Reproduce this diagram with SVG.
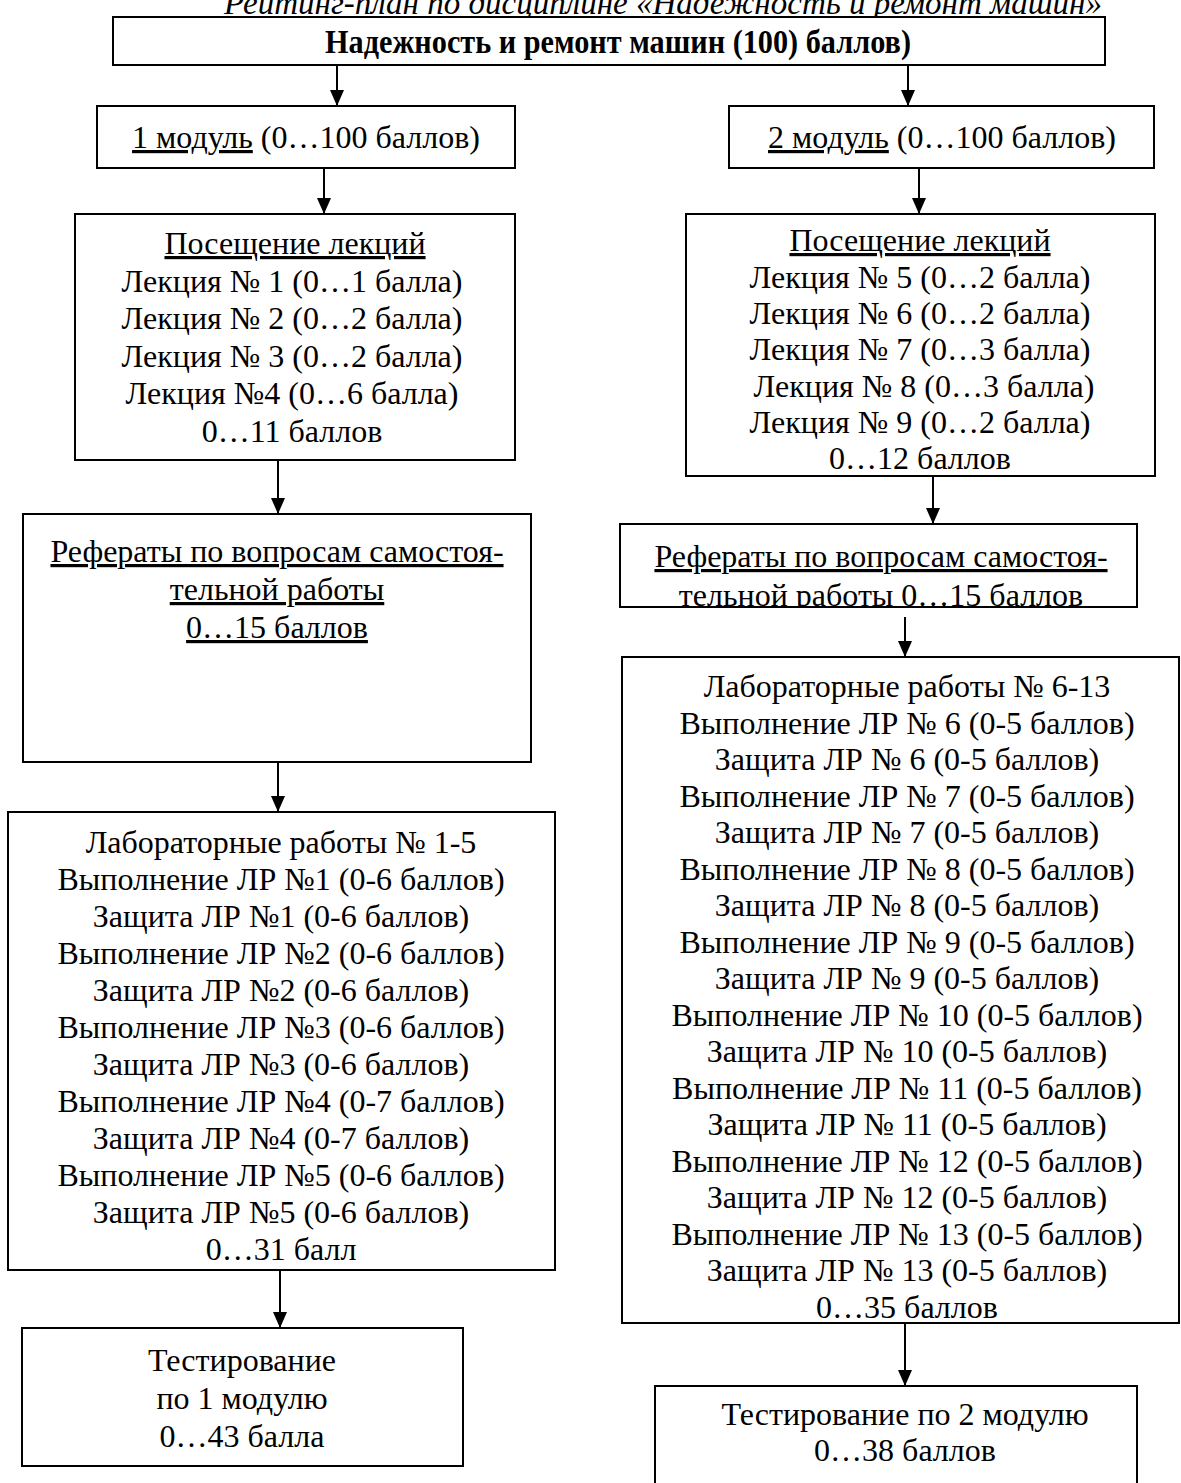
<svg xmlns="http://www.w3.org/2000/svg" width="1181" height="1483" viewBox="0 0 1181 1483">
<style>
text{font-family:"Liberation Serif","Times New Roman",serif;font-size:32px;fill:#000;text-anchor:middle}
.box{fill:#fff;stroke:#000;stroke-width:2}
.u{text-decoration:underline}
.conn line{stroke:#000;stroke-width:2}
</style>
<defs>
<marker id="ah" markerUnits="userSpaceOnUse" markerWidth="14" markerHeight="16" refX="16" refY="7" orient="auto">
<path d="M0,0 L16,7 L0,14 z" fill="#000"/>
</marker>
<clipPath id="clipRefR"><rect x="621" y="525" width="515" height="81"/></clipPath>
</defs>
<rect width="1181" height="1483" fill="#fff"/>
<text x="663" y="14" style="font-style:italic;font-size:33px">Рейтинг-план по дисциплине «Надежность и ремонт машин»</text>

<g id="root">
<rect class="box" x="113" y="17" width="992" height="48"/>
<text x="618" y="53" style="font-weight:bold;font-size:34px" textLength="586" lengthAdjust="spacingAndGlyphs">Надежность и ремонт машин (100) баллов)</text>
</g>

<g id="mod1">
<rect class="box" x="97" y="106" width="418" height="62"/>
<text x="306" y="148"><tspan class="u">1 модуль</tspan> (0…100 баллов)</text>
</g>
<g id="mod2">
<rect class="box" x="729" y="106" width="425" height="62"/>
<text x="942" y="148"><tspan class="u">2 модуль</tspan> (0…100 баллов)</text>
</g>

<g id="lect1">
<rect class="box" x="75" y="214" width="440" height="246"/>
<text x="295" y="254" class="u">Посещение лекций</text>
<text x="292" y="291.5">Лекция № 1 (0…1 балла)</text>
<text x="292" y="329">Лекция № 2 (0…2 балла)</text>
<text x="292" y="366.5">Лекция № 3 (0…2 балла)</text>
<text x="292" y="404">Лекция №4 (0…6 балла)</text>
<text x="292" y="441.5">0…11 баллов</text>
</g>
<g id="lect2">
<rect class="box" x="686" y="214" width="469" height="262"/>
<text x="920" y="251" class="u">Посещение лекций</text>
<text x="920" y="288">Лекция № 5 (0…2 балла)</text>
<text x="920" y="324">Лекция № 6 (0…2 балла)</text>
<text x="920" y="360">Лекция № 7 (0…3 балла)</text>
<text x="924" y="397">Лекция № 8 (0…3 балла)</text>
<text x="920" y="433">Лекция № 9 (0…2 балла)</text>
<text x="920" y="469">0…12 баллов</text>
</g>

<g id="ref1">
<rect class="box" x="23" y="514" width="508" height="248"/>
<text x="277" y="562" class="u">Рефераты по вопросам самостоя-</text>
<text x="277" y="600" class="u">тельной работы</text>
<text x="277" y="638" class="u">0…15 баллов</text>
</g>
<g id="ref2">
<rect class="box" x="620" y="524" width="517" height="83"/>
<g clip-path="url(#clipRefR)">
<text x="881" y="567" class="u">Рефераты по вопросам самостоя-</text>
<text x="881" y="606">тельной работы 0…15 баллов</text>
</g>
</g>

<g id="lab1">
<rect class="box" x="8" y="812" width="547" height="458"/>
<text x="281" y="853">Лабораторные работы № 1-5</text>
<text x="281" y="890">Выполнение ЛР №1 (0-6 баллов)</text>
<text x="281" y="927">Защита ЛР №1 (0-6 баллов)</text>
<text x="281" y="964">Выполнение ЛР №2 (0-6 баллов)</text>
<text x="281" y="1001">Защита ЛР №2 (0-6 баллов)</text>
<text x="281" y="1038">Выполнение ЛР №3 (0-6 баллов)</text>
<text x="281" y="1075">Защита ЛР №3 (0-6 баллов)</text>
<text x="281" y="1112">Выполнение ЛР №4 (0-7 баллов)</text>
<text x="281" y="1149">Защита ЛР №4 (0-7 баллов)</text>
<text x="281" y="1186">Выполнение ЛР №5 (0-6 баллов)</text>
<text x="281" y="1223">Защита ЛР №5 (0-6 баллов)</text>
<text x="281" y="1260">0…31 балл</text>
</g>
<g id="lab2">
<rect class="box" x="622" y="657" width="557" height="666"/>
<text x="907" y="697">Лабораторные работы № 6-13</text>
<text x="907" y="733.5">Выполнение ЛР № 6 (0-5 баллов)</text>
<text x="907" y="770">Защита ЛР № 6 (0-5 баллов)</text>
<text x="907" y="806.5">Выполнение ЛР № 7 (0-5 баллов)</text>
<text x="907" y="843">Защита ЛР № 7 (0-5 баллов)</text>
<text x="907" y="879.5">Выполнение ЛР № 8 (0-5 баллов)</text>
<text x="907" y="916">Защита ЛР № 8 (0-5 баллов)</text>
<text x="907" y="952.5">Выполнение ЛР № 9 (0-5 баллов)</text>
<text x="907" y="989">Защита ЛР № 9 (0-5 баллов)</text>
<text x="907" y="1025.5">Выполнение ЛР № 10 (0-5 баллов)</text>
<text x="907" y="1062">Защита ЛР № 10 (0-5 баллов)</text>
<text x="907" y="1098.5">Выполнение ЛР № 11 (0-5 баллов)</text>
<text x="907" y="1135">Защита ЛР № 11 (0-5 баллов)</text>
<text x="907" y="1171.5">Выполнение ЛР № 12 (0-5 баллов)</text>
<text x="907" y="1208">Защита ЛР № 12 (0-5 баллов)</text>
<text x="907" y="1244.5">Выполнение ЛР № 13 (0-5 баллов)</text>
<text x="907" y="1281">Защита ЛР № 13 (0-5 баллов)</text>
<text x="907" y="1317.5">0…35 баллов</text>
</g>

<g id="test1">
<rect class="box" x="22" y="1328" width="441" height="138"/>
<text x="242" y="1371">Тестирование</text>
<text x="242" y="1409">по 1 модулю</text>
<text x="242" y="1447">0…43 балла</text>
</g>
<g id="test2">
<rect class="box" x="655" y="1386" width="482" height="110"/>
<text x="905" y="1425">Тестирование по 2 модулю</text>
<text x="905" y="1461">0…38 баллов</text>
</g>

<g id="connectors" class="conn">
<line x1="337" y1="65" x2="337" y2="106" marker-end="url(#ah)"/>
<line x1="908" y1="65" x2="908" y2="106" marker-end="url(#ah)"/>
<line x1="324" y1="168" x2="324" y2="214" marker-end="url(#ah)"/>
<line x1="919" y1="168" x2="919" y2="214" marker-end="url(#ah)"/>
<line x1="278" y1="460" x2="278" y2="514" marker-end="url(#ah)"/>
<line x1="933" y1="476" x2="933" y2="524" marker-end="url(#ah)"/>
<line x1="278" y1="762" x2="278" y2="812" marker-end="url(#ah)"/>
<line x1="905" y1="617" x2="905" y2="657" marker-end="url(#ah)"/>
<line x1="280" y1="1270" x2="280" y2="1328" marker-end="url(#ah)"/>
<line x1="905" y1="1323" x2="905" y2="1386" marker-end="url(#ah)"/>
</g>
</svg>
